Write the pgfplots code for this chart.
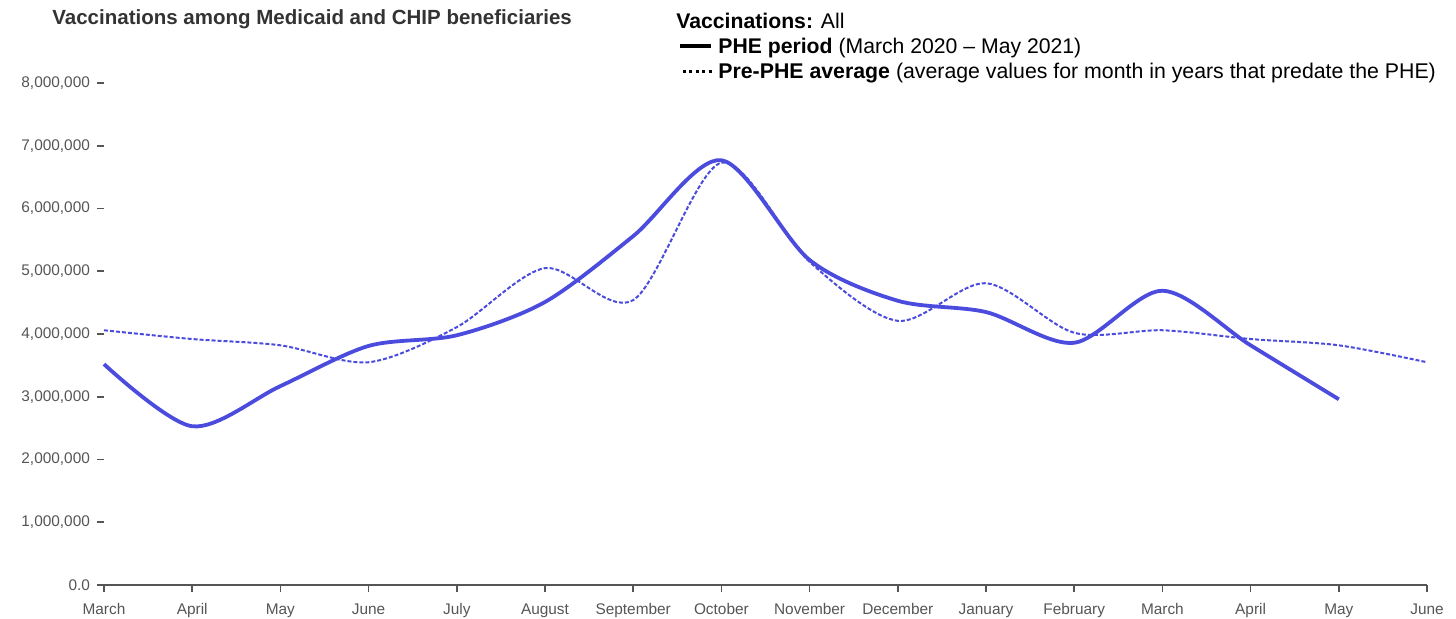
\documentclass[border=0pt]{standalone}
\usepackage{pgfplots}
\pgfplotsset{compat=1.18}
\usepackage{fontspec}
\setmainfont{Liberation Sans}
\definecolor{lineblue}{RGB}{75,75,222}
\definecolor{axgray}{RGB}{85,85,85}
\definecolor{titlegray}{RGB}{51,51,51}
\begin{document}
\begin{tikzpicture}
\begin{axis}[
  at={(0pt,0pt)}, anchor=south west,
  scale only axis, width=661.5pt, height=251pt,
  xmin=0, xmax=15, ymin=0, ymax=8000000,
  scaled y ticks=false,
  axis x line*=bottom, axis y line*=left,
  y axis line style={draw=none},
  x axis line style={axgray, line width=0.9pt},
  xtick={0,...,15},
  xticklabels={March,April,May,June,July,August,September,October,November,December,January,February,March,April,May,June},
  ytick={0,1000000,2000000,3000000,4000000,5000000,6000000,7000000,8000000},
  yticklabels={{0.0},{1,000,000},{2,000,000},{3,000,000},{4,000,000},{5,000,000},{6,000,000},{7,000,000},{8,000,000}},
  tick align=outside,
  major tick length=3.5pt,
  tick style={axgray, line width=0.8pt},
  ticklabel style={font=\fontsize{7.7}{8.5}\selectfont, text=axgray},
  xticklabel style={text height=1.5ex, text depth=0.45ex},
  clip=false,
]
\addplot[lineblue, line width=1.9pt, smooth] coordinates {
(0,3520000) (1,2530000) (2,3170000) (3,3810000) (4,3980000) (5,4510000) (6,5560000) (7,6770000)
(8,5180000) (9,4530000) (10,4350000) (11,3860000) (12,4690000) (13,3820000) (14,2960000)};
\addplot[lineblue, line width=1pt, smooth, dash pattern=on 2pt off 1pt] coordinates {
(0,4060000) (1,3920000) (2,3820000) (3,3550000) (4,4110000) (5,5050000) (6,4540000) (7,6730000)
(8,5150000) (9,4210000) (10,4810000) (11,4020000) (12,4060000) (13,3920000) (14,3820000) (15,3550000)};
\end{axis}
\node[anchor=base west, font=\fontsize{10.25}{12}\selectfont\bfseries, text=titlegray, inner sep=0pt] at (-26pt,280pt) {Vaccinations among Medicaid and CHIP beneficiaries};
\node[anchor=base west, font=\fontsize{10.6}{12}\selectfont, inner sep=0pt] at (286pt,278.5pt) {\textbf{Vaccinations:} All};
\draw[black, line width=2pt] (288pt,269.5pt) -- (303.5pt,269.5pt);
\node[anchor=base west, font=\fontsize{10.6}{12}\selectfont, inner sep=0pt] at (307pt,266pt) {\textbf{PHE period} (March 2020 – May 2021)};
\draw[black, line width=1.5pt, dash pattern=on 1.5pt off 1.7pt] (289.5pt,257pt) -- (304pt,257pt);
\node[anchor=base west, font=\fontsize{10.65}{12}\selectfont, inner sep=0pt] at (307pt,253.5pt) {\textbf{Pre-PHE average} (average values for month in years that predate the PHE)};
\pgfresetboundingbox
\path[use as bounding box] (-52pt,-16.5pt) rectangle (676pt,292.5pt);
\end{tikzpicture}
\end{document}
